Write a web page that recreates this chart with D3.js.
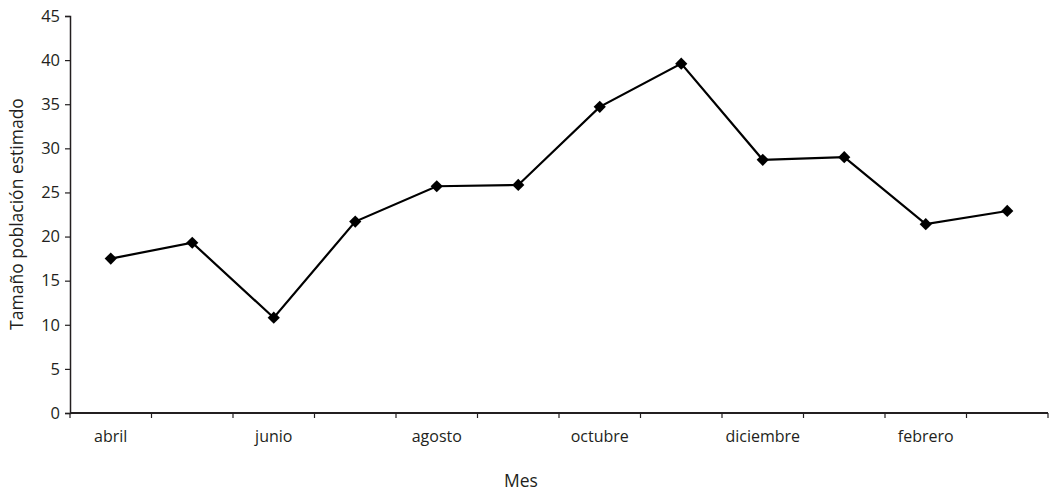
<!DOCTYPE html>
<html><head><meta charset="utf-8">
<script src="https://cdn.jsdelivr.net/npm/d3@7/dist/d3.min.js"></script>
<style>body{margin:0;background:#fff}svg{display:block}text{font-family:"Open Sans","Noto Sans",sans-serif;fill:#231f20}</style>
</head><body><svg id="c" width="1049" height="491"></svg>
<script>
const months = ["abril","mayo","junio","julio","agosto","septiembre","octubre","noviembre","diciembre","enero","febrero","marzo"];
const values = [17.5,19.3,10.8,21.7,25.7,25.85,34.7,39.6,28.7,29.0,21.4,22.9];
const yTicks = [0,5,10,15,20,25,30,35,40,45];
const shownLabels = ["abril","junio","agosto","octubre","diciembre","febrero"];

const svg = d3.select("#c");
const m = {l:70, r:1048, t:16, b:413};
const x = d3.scaleBand().domain(months).range([m.l, m.r]);
const y = d3.scaleLinear().domain([0,45]).range([m.b, m.t]);

// Y axis
const ya = svg.append("g").attr("transform",`translate(${m.l},0)`)
  .call(d3.axisLeft(y).tickValues(yTicks).tickSize(5).tickPadding(5));
ya.select(".domain").attr("stroke","#231f20").attr("stroke-width",1.5);
ya.selectAll(".tick line").attr("stroke","#231f20").attr("stroke-width",1.2);
ya.selectAll(".tick text").style("font-size","16.5px").attr("fill","#231f20");

// X axis: ticks at band boundaries
const xa = svg.append("g").attr("transform",`translate(0,${m.b})`)
  .call(d3.axisBottom(x).tickSize(0).tickPadding(18).tickFormat(d => shownLabels.includes(d) ? d : ""));
xa.select(".domain").attr("stroke","#231f20").attr("stroke-width",2.2).attr("d",`M${m.l},0H${m.r}`);
xa.selectAll(".tick text").style("font-size","16px").attr("fill","#231f20");
const bounds = months.map(d => x(d)).concat([m.r]);
xa.selectAll(".bt").data(bounds).join("line").attr("class","bt")
  .attr("x1",d=>d).attr("x2",d=>d).attr("y1",0).attr("y2",5)
  .attr("stroke","#231f20").attr("stroke-width",1.2);

// Line
const pts = months.map((d,i)=>[x(d)+x.bandwidth()/2, y(values[i])]);
svg.append("path").attr("d", d3.line()(pts)).attr("fill","none")
  .attr("stroke","#000").attr("stroke-width",2.2);
svg.selectAll(".mk").data(pts).join("path").attr("class","mk")
  .attr("d", d3.symbol(d3.symbolDiamond2, 95)())
  .attr("transform", d=>`translate(${d[0]},${d[1]})`).attr("fill","#000");

// Titles
svg.append("text").attr("x",521).attr("y",487).attr("text-anchor","middle")
  .style("font-size","17.5px").text("Mes");
svg.append("text").attr("transform","translate(23,214) rotate(-90)").attr("text-anchor","middle")
  .style("font-size","17.5px").text("Tamaño población estimado");
</script></body></html>
